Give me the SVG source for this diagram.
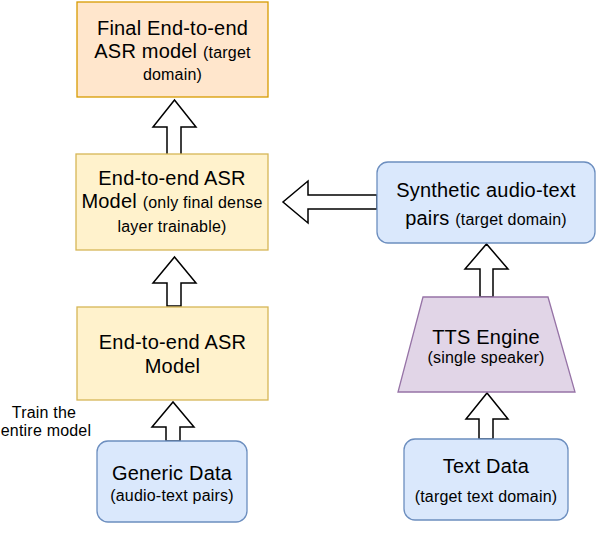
<svg xmlns="http://www.w3.org/2000/svg" width="596" height="554" viewBox="0 0 596 554">
<style>
text{font-family:"Liberation Sans",Arial,Helvetica,sans-serif;fill:#000;text-anchor:middle;letter-spacing:0.2px}
.m{font-size:20px}
.s{font-size:16px}
.arr{fill:#fff;stroke:#000;stroke-width:1.5;stroke-linejoin:miter}
.orange{fill:#ffe6cc;stroke:#d79b00;stroke-width:1.3}
.yellow{fill:#fff2cc;stroke:#d6b656;stroke-width:1.3}
.blue{fill:#dae8fc;stroke:#6c8ebf;stroke-width:1.3}
.purple{fill:#e1d5e7;stroke:#9673a6;stroke-width:1.3}
</style>
<rect width="596" height="554" fill="#fff"/>
<g id="connectors">
<polygon class="arr" points="167,155 167,127 153,127 174.5,100 196,127 181,127 181,155"/>
<polygon class="arr" points="167,306 167,283 153,283 174.5,257 196,283 181,283 181,306"/>
<polygon class="arr" points="166,441 166,427 152,427 173,402 194,427 180,427 180,441"/>
<polygon class="arr" points="377,195 308,195 308,181 283,202 308,223 308,209 377,209"/>
<polygon class="arr" points="480,297 480,269 465,269 486.5,244 508,269 493,269 493,297"/>
<polygon class="arr" points="479,439 479,419 466,419 487,393 508,419 493,419 493,439"/>
</g>
<g id="final-model">
<rect class="orange" x="77" y="2" width="191" height="95"/>
<text class="m" x="172.5" y="35">Final End-to-end</text>
<text x="172.5" y="58"><tspan class="m">ASR model </tspan><tspan class="s">(target</tspan></text>
<text class="s" x="172.5" y="80">domain)</text>
</g>
<g id="asr-dense">
<rect class="yellow" x="76" y="154" width="192" height="96"/>
<text class="m" x="172" y="185">End-to-end ASR</text>
<text x="172" y="208"><tspan class="m">Model </tspan><tspan class="s">(only final dense</tspan></text>
<text class="s" x="172" y="232">layer trainable)</text>
</g>
<g id="asr-model">
<rect class="yellow" x="77" y="307" width="191" height="93"/>
<text class="m" x="172.5" y="349">End-to-end ASR</text>
<text class="m" x="172.5" y="373">Model</text>
</g>
<g id="train-label">
<text class="s" x="44" y="418">Train the</text>
<text class="s" x="46" y="436">entire model</text>
</g>
<g id="generic-data">
<rect class="blue" x="97" y="441" width="150" height="81" rx="11"/>
<text class="m" x="172" y="480">Generic Data</text>
<text class="s" x="172" y="501">(audio-text pairs)</text>
</g>
<g id="synthetic">
<rect class="blue" x="377" y="162" width="218" height="81" rx="11"/>
<text class="m" x="486" y="197">Synthetic audio-text</text>
<text x="486" y="225"><tspan class="m">pairs </tspan><tspan class="s">(target domain)</tspan></text>
</g>
<g id="tts">
<polygon class="purple" points="423,297 548,297 575,392 398,392"/>
<text class="m" x="486" y="344">TTS Engine</text>
<text class="s" x="486" y="363">(single speaker)</text>
</g>
<g id="text-data">
<rect class="blue" x="404" y="439" width="164" height="81" rx="11"/>
<text class="m" x="486" y="473">Text Data</text>
<text class="s" x="486" y="502">(target text domain)</text>
</g>
</svg>
